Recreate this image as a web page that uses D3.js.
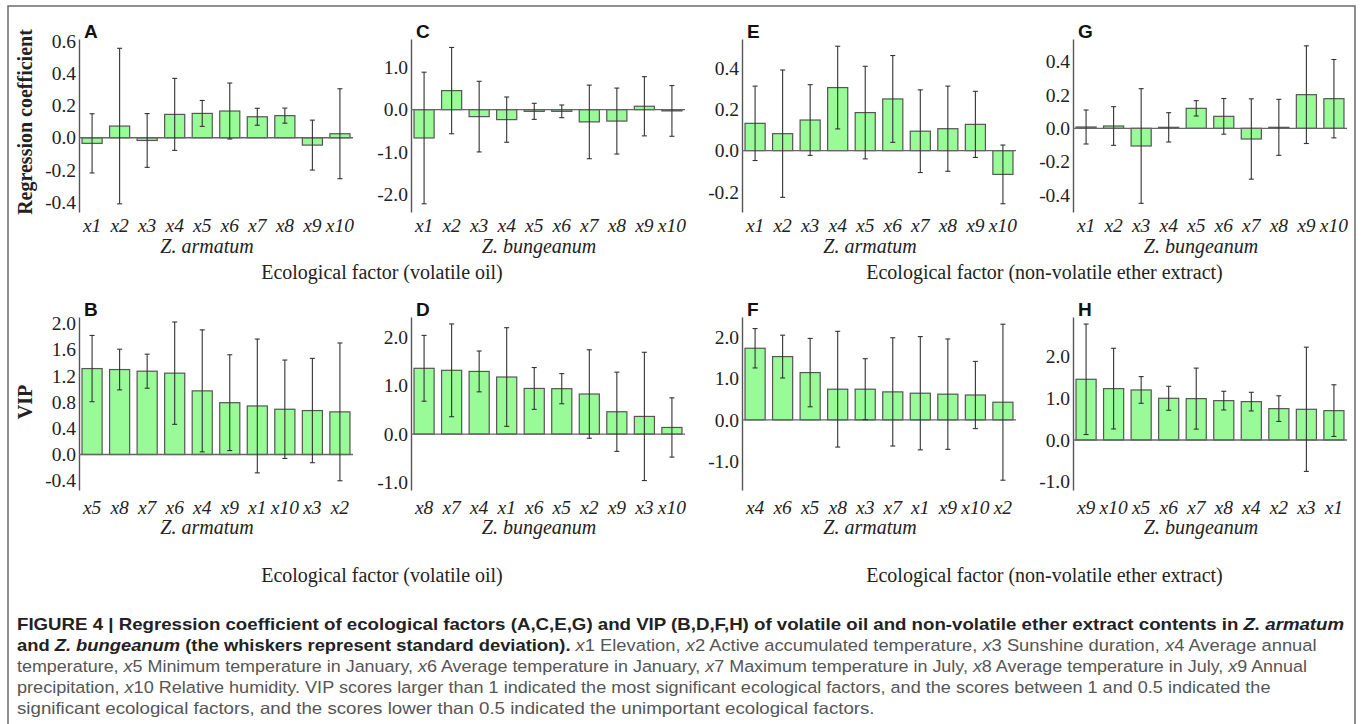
<!DOCTYPE html>
<html>
<head>
<meta charset="utf-8">
<script src="https://cdn.jsdelivr.net/npm/d3@7"></script>
<style>
body { margin: 0; background: #fff; }
svg { display: block; }
</style>
</head>
<body>
<script>
// ---- data ----
var factors = ["x1", "x2", "x3", "x4", "x5", "x6", "x7", "x8", "x9", "x10"];

// regression coefficients (top row), factor order x1..x10
var coefA = [-0.035, 0.073, -0.017, 0.146, 0.152, 0.167, 0.131, 0.138, -0.046, 0.025];
var sdA = [0.185, 0.486, 0.168, 0.225, 0.081, 0.175, 0.053, 0.047, 0.156, 0.281];
var coefC = [-0.67, 0.45, -0.165, -0.236, -0.04, -0.04, -0.29, -0.27, 0.08, -0.03];
var sdC = [1.555, 1.02, 0.835, 0.535, 0.19, 0.15, 0.87, 0.78, 0.70, 0.60];
var coefE = [0.132, 0.082, 0.148, 0.305, 0.184, 0.25, 0.094, 0.106, 0.127, -0.115];
var sdE = [0.18, 0.308, 0.171, 0.2, 0.224, 0.21, 0.2, 0.206, 0.16, 0.142];
var coefG = [0.008, 0.014, -0.106, 0.006, 0.12, 0.072, -0.064, 0.006, 0.202, 0.178];
var sdG = [0.102, 0.116, 0.344, 0.088, 0.046, 0.107, 0.241, 0.168, 0.293, 0.235];

// VIP (bottom row), sorted factor order per panel
var orderB = ["x5", "x8", "x7", "x6", "x4", "x9", "x1", "x10", "x3", "x2"];
var vipB = [1.31, 1.295, 1.27, 1.24, 0.97, 0.79, 0.74, 0.69, 0.67, 0.65];
var sdB = [0.505, 0.31, 0.26, 0.78, 0.93, 0.73, 1.02, 0.75, 0.795, 1.05];
var orderD = ["x8", "x7", "x4", "x1", "x6", "x5", "x2", "x9", "x3", "x10"];
var vipD = [1.354, 1.313, 1.29, 1.175, 0.94, 0.935, 0.825, 0.46, 0.364, 0.137];
var sdD = [0.677, 0.955, 0.42, 1.015, 0.43, 0.31, 0.91, 0.815, 1.32, 0.61];
var orderF = ["x4", "x6", "x5", "x8", "x3", "x7", "x1", "x9", "x10", "x2"];
var vipF = [1.727, 1.526, 1.14, 0.74, 0.74, 0.675, 0.643, 0.62, 0.60, 0.426];
var sdF = [0.475, 0.516, 0.824, 1.395, 0.735, 1.305, 1.365, 1.33, 0.81, 1.88];
var orderH = ["x9", "x10", "x5", "x6", "x7", "x8", "x4", "x2", "x3", "x1"];
var vipH = [1.456, 1.232, 1.2, 1.0, 0.992, 0.944, 0.92, 0.752, 0.736, 0.704];
var sdH = [1.325, 0.968, 0.32, 0.288, 0.732, 0.224, 0.224, 0.308, 1.49, 0.62];

// axis tick labels
var ticksA = [-0.4, -0.2, 0, 0.2, 0.4, 0.6];
var ticksC = [-2, -1, 0, 1];
var ticksE = [-0.2, 0, 0.2, 0.4];
var ticksG = [-0.4, -0.2, 0, 0.2, 0.4];
var ticksB = [-0.4, 0, 0.4, 0.8, 1.2, 1.6, 2.0];
var ticksVip = [-1, 0, 1, 2];

var species = ["Z. armatum", "Z. bungeanum"];
var groupTitles = ["Ecological factor (volatile oil)", "Ecological factor (non-volatile ether extract)"];

var captionLines = [
	[["FIGURE 4 | Regression coefficient of ecological factors (A,C,E,G) and VIP (B,D,F,H) of volatile oil and non-volatile ether extract contents in ", "b"], ["Z. armatum", "bi"]],
	[["and ", "b"], ["Z. bungeanum", "bi"], [" (the whiskers represent standard deviation). ", "b"], ["x", "i"], ["1 Elevation, ", "r"], ["x", "i"], ["2 Active accumulated temperature, ", "r"], ["x", "i"], ["3 Sunshine duration, ", "r"], ["x", "i"], ["4 Average annual", "r"]],
	[["temperature, ", "r"], ["x", "i"], ["5 Minimum temperature in January, ", "r"], ["x", "i"], ["6 Average temperature in January, ", "r"], ["x", "i"], ["7 Maximum temperature in July, ", "r"], ["x", "i"], ["8 Average temperature in July, ", "r"], ["x", "i"], ["9 Annual", "r"]],
	[["precipitation, ", "r"], ["x", "i"], ["10 Relative humidity. VIP scores larger than 1 indicated the most significant ecological factors, and the scores between 1 and 0.5 indicated the", "r"]],
	[["significant ecological factors, and the scores lower than 0.5 indicated the unimportant ecological factors.", "r"]]
];

// ---- layout ----
var W = 1363, H = 724;
var serif = "'Liberation Serif', 'Times New Roman', serif";
var sans = "'Liberation Sans', Arial, sans-serif";
var colX0 = [79, 411, 742, 1073];
var plotW = 274;
var rowTop = [39, 317], rowBottom = [212, 490];
var labelPad = [6, 10], speciesGap = [41, 44];

var svg = d3.select("body").append("svg")
	.attr("width", W)
	.attr("height", H);

// outer frame (bottom edge runs off the page)
svg.append("path")
	.attr("d", "M8," + (H + 5) + "V6H1355V" + (H + 5))
	.attr("fill", "none")
	.attr("stroke", "#6b6b6b")
	.attr("stroke-width", 1.5);

var panels = [
	{ letter: "A", col: 0, row: 0, cats: factors, vals: coefA, sd: sdA, dom: [-0.464, 0.617], ticks: ticksA },
	{ letter: "C", col: 1, row: 0, cats: factors, vals: coefC, sd: sdC, dom: [-2.42, 1.67], ticks: ticksC },
	{ letter: "E", col: 2, row: 0, cats: factors, vals: coefE, sd: sdE, dom: [-0.297, 0.54], ticks: ticksE },
	{ letter: "G", col: 3, row: 0, cats: factors, vals: coefG, sd: sdG, dom: [-0.502, 0.536], ticks: ticksG },
	{ letter: "B", col: 0, row: 1, cats: orderB, vals: vipB, sd: sdB, dom: [-0.541, 2.096], ticks: ticksB },
	{ letter: "D", col: 1, row: 1, cats: orderD, vals: vipD, sd: sdD, dom: [-1.15, 2.41], ticks: ticksVip },
	{ letter: "F", col: 2, row: 1, cats: orderF, vals: vipF, sd: sdF, dom: [-1.69, 2.48], ticks: ticksVip },
	{ letter: "H", col: 3, row: 1, cats: orderH, vals: vipH, sd: sdH, dom: [-1.2, 2.95], ticks: ticksVip }
];

var drawPanel = function(p) {
	var x0 = colX0[p.col];
	var top = rowTop[p.row], bottom = rowBottom[p.row];
	var g = svg.append("g").attr("class", "panel");

	var rows = p.cats.map(function(c, i) {
		return { cat: c, v: p.vals[i], sd: p.sd[i] };
	});

	var x = d3.scaleBand()
		.domain(p.cats)
		.range([x0, x0 + plotW])
		.paddingInner(0.27)
		.paddingOuter(0.11);
	var y = d3.scaleLinear()
		.domain(p.dom)
		.range([bottom, top]);

	// y axis
	var ya = g.append("g")
		.attr("transform", "translate(" + x0 + ",0)")
		.call(d3.axisLeft(y)
			.tickValues(p.ticks)
			.tickSize(0)
			.tickPadding(3)
			.tickFormat(function(d) { return d.toFixed(1); }));
	ya.select(".domain").attr("stroke", "#555").attr("stroke-width", 1.4);
	ya.selectAll("text")
		.attr("font-family", serif)
		.attr("font-size", 19.5)
		.attr("fill", "#222");

	// bars
	g.selectAll(".bar")
		.data(rows)
		.enter()
		.append("rect")
		.attr("class", "bar")
		.attr("x", function(d) { return x(d.cat); })
		.attr("width", x.bandwidth())
		.attr("y", function(d) { return y(Math.max(0, d.v)); })
		.attr("height", function(d) { return Math.abs(y(d.v) - y(0)); })
		.attr("fill", "#98fb98")
		.attr("stroke", "#555")
		.attr("stroke-width", 1.2);

	// zero line
	g.append("line")
		.attr("x1", x0).attr("x2", x0 + plotW)
		.attr("y1", y(0)).attr("y2", y(0))
		.attr("stroke", "#666")
		.attr("stroke-width", 1.4);

	// whiskers (standard deviation)
	var eb = g.selectAll(".err")
		.data(rows)
		.enter()
		.append("g")
		.attr("class", "err")
		.attr("stroke", "#333")
		.attr("stroke-width", 1.1);
	eb.append("line")
		.attr("x1", function(d) { return x(d.cat) + x.bandwidth() / 2; })
		.attr("x2", function(d) { return x(d.cat) + x.bandwidth() / 2; })
		.attr("y1", function(d) { return y(d.v - d.sd); })
		.attr("y2", function(d) { return y(d.v + d.sd); });
	[-1, 1].forEach(function(s) {
		eb.append("line")
			.attr("x1", function(d) { return x(d.cat) + x.bandwidth() / 2 - 2.5; })
			.attr("x2", function(d) { return x(d.cat) + x.bandwidth() / 2 + 2.5; })
			.attr("y1", function(d) { return y(d.v + s * d.sd); })
			.attr("y2", function(d) { return y(d.v + s * d.sd); });
	});

	// category labels
	var xa = g.append("g")
		.attr("transform", "translate(0," + bottom + ")")
		.call(d3.axisBottom(x).tickSize(0).tickPadding(labelPad[p.row]));
	xa.select(".domain").remove();
	xa.selectAll("text")
		.attr("font-family", serif)
		.attr("font-style", "italic")
		.attr("font-size", 19.5)
		.attr("fill", "#222");

	// species name
	g.append("text")
		.attr("x", x0 + 128)
		.attr("y", bottom + speciesGap[p.row])
		.attr("text-anchor", "middle")
		.attr("font-family", serif)
		.attr("font-style", "italic")
		.attr("font-size", 20)
		.attr("fill", "#222")
		.text(species[p.col % 2]);

	// panel letter
	g.append("text")
		.attr("x", x0 + 5)
		.attr("y", top - 1.5)
		.attr("font-family", sans)
		.attr("font-weight", "bold")
		.attr("font-size", 19)
		.attr("fill", "#111")
		.text(p.letter);
};

panels.forEach(drawPanel);

// group titles under each pair of columns
var titleY = [279, 582];
[0, 1].forEach(function(row) {
	[0, 1].forEach(function(k) {
		var left = colX0[k * 2], right = colX0[k * 2 + 1] + plotW;
		svg.append("text")
			.attr("x", (left + right) / 2)
			.attr("y", titleY[row])
			.attr("text-anchor", "middle")
			.attr("font-family", serif)
			.attr("font-size", 20)
			.attr("fill", "#222")
			.text(groupTitles[k]);
	});
});

// y axis titles
var yTitles = [["Regression coefficient", 122], ["VIP", 402]];
yTitles.forEach(function(t) {
	svg.append("text")
		.attr("transform", "translate(32," + t[1] + ") rotate(-90)")
		.attr("text-anchor", "middle")
		.attr("font-family", serif)
		.attr("font-weight", "bold")
		.attr("font-size", 20)
		.attr("fill", "#222")
		.text(t[0]);
});

// caption
var captionWidths = [1328, 1301, 1291, 1255, 859];
var capY0 = 630, capStep = 21;
captionLines.forEach(function(line, i) {
	var t = svg.append("text")
		.attr("x", 0)
		.attr("y", 0)
		.attr("font-family", sans)
		.attr("font-size", 16.5)
		.style("white-space", "pre");
	line.forEach(function(seg) {
		var bold = seg[1] == "b" || seg[1] == "bi";
		t.append("tspan")
			.attr("font-weight", bold ? "bold" : "normal")
			.attr("font-style", (seg[1] == "i" || seg[1] == "bi") ? "italic" : "normal")
			.attr("fill", bold ? "#222" : "#555")
			.text(seg[0]);
	});
	var len = t.node().getComputedTextLength();
	t.attr("transform", "translate(17," + (capY0 + i * capStep) + ") scale(" + (captionWidths[i] / len) + ",1)");
});
</script>
</body>
</html>
